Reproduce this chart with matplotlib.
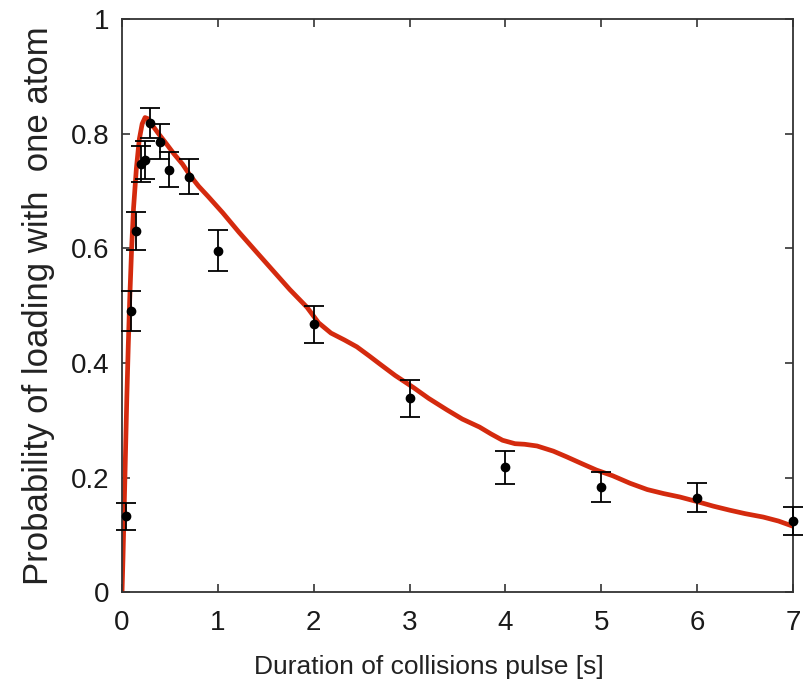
import numpy as np
import matplotlib
matplotlib.use('Agg')
import matplotlib.pyplot as plt

plt.rcParams['font.family'] = ['Liberation Sans', 'DejaVu Sans']

# measured points with error bars
t_data = [0.04, 0.09, 0.15, 0.20, 0.24, 0.29, 0.40, 0.49, 0.70, 1.0, 2.0, 3.0, 4.0, 5.0, 6.0, 7.0]
p_data = [0.132, 0.491, 0.630, 0.747, 0.754, 0.819, 0.786, 0.737, 0.725, 0.596,
          0.467, 0.338, 0.218, 0.183, 0.165, 0.124]
p_err = [0.024, 0.035, 0.033, 0.032, 0.033, 0.026, 0.030, 0.031, 0.031, 0.035,
         0.033, 0.032, 0.029, 0.026, 0.025, 0.025]

# simulated curve
t_sim = [0.0, 0.01, 0.02, 0.03, 0.04, 0.05, 0.065, 0.08, 0.10, 0.12, 0.15, 0.18, 0.21, 0.24,
         0.27, 0.31, 0.38, 0.45, 0.54, 0.63, 0.71, 0.80, 0.90, 1.05, 1.22, 1.41, 1.58,
         1.75, 1.93, 2.05, 2.18, 2.32, 2.45, 2.58, 2.69, 2.85, 3.04, 3.20, 3.39, 3.55,
         3.73, 3.85, 3.97, 4.10, 4.20, 4.33, 4.50, 4.64, 4.80, 4.95, 5.12, 5.30, 5.48,
         5.65, 5.82, 6.00, 6.17, 6.34, 6.50, 6.69, 6.85, 7.0]
p_sim = [0.0, 0.06, 0.13, 0.20, 0.27, 0.34, 0.43, 0.51, 0.60, 0.67, 0.74, 0.79, 0.817, 0.828,
         0.826, 0.816, 0.800, 0.785, 0.765, 0.747, 0.727, 0.708, 0.690, 0.662, 0.628,
         0.592, 0.560, 0.528, 0.497, 0.470, 0.452, 0.440, 0.428, 0.412, 0.398, 0.378,
         0.357, 0.338, 0.318, 0.302, 0.288, 0.276, 0.265, 0.259, 0.258, 0.255, 0.246,
         0.236, 0.224, 0.213, 0.203, 0.190, 0.179, 0.172, 0.166, 0.158, 0.150, 0.143,
         0.137, 0.131, 0.124, 0.115]

fig = plt.figure(figsize=(8.05, 6.95), dpi=100)
ax = fig.add_axes([0.1516, 0.148, 0.8334, 0.8247])

ax.plot(t_sim, p_sim, color='#d42a0e', lw=3.4, zorder=2, solid_joinstyle='round')
ax.errorbar(t_data, p_data, yerr=p_err, fmt='o', color='black', ms=6,
            elinewidth=1.3, capsize=7.5, capthick=1.3, zorder=3, clip_on=False)

ax.set_xlim(0, 7)
ax.set_ylim(0, 1)
ax.set_xticks(range(8))
ax.set_yticks([0, 0.2, 0.4, 0.6, 0.8, 1])
ax.set_yticklabels(['0', '0.2', '0.4', '0.6', '0.8', '1'])
ax.tick_params(direction='in', top=True, right=True, length=6, width=1.2,
               labelsize=20, colors='#333333', labelcolor='#1a1a1a')
ax.tick_params(axis='x', pad=13)
ax.tick_params(axis='y', pad=9)
for s in ax.spines.values():
    s.set_linewidth(1.3)
    s.set_color('#333333')

ax.set_xlabel('Duration of collisions pulse [s]', fontsize=19, color='#222222')
ax.set_ylabel('Probability of loading with  one atom', fontsize=25, color='#222222')
ax.xaxis.set_label_coords(0.457, -0.11)
ax.yaxis.set_label_coords(-0.1, 0.5)

fig.savefig('out.png', dpi=100)
